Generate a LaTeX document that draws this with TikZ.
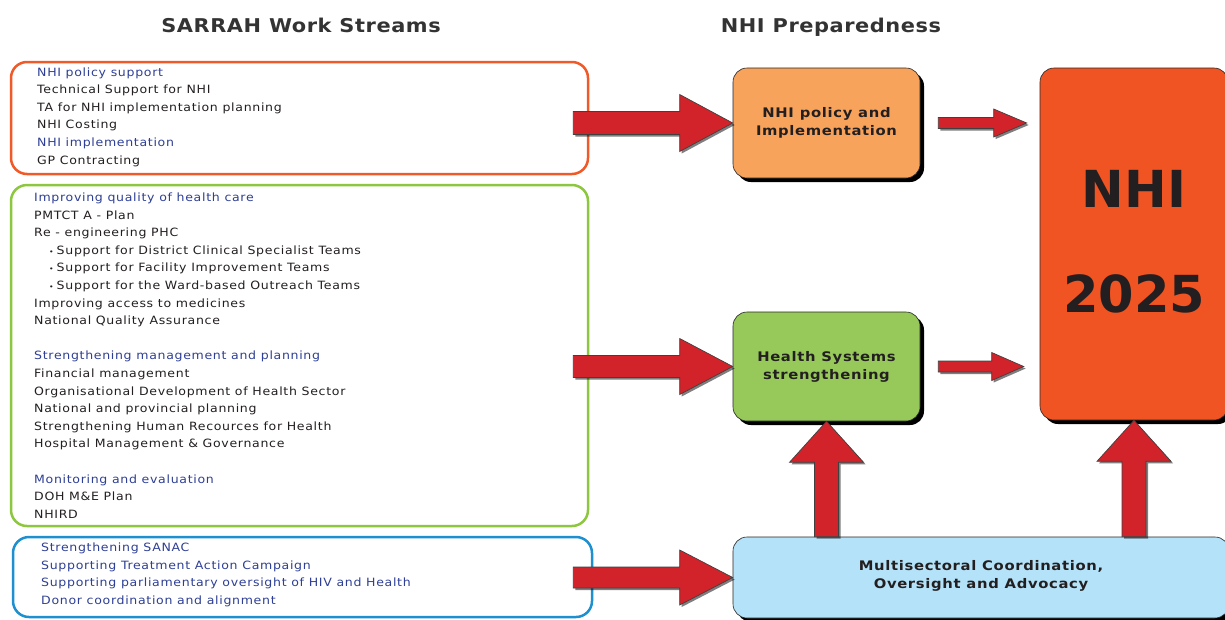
\documentclass[tikz,border=0pt]{standalone}
\usepackage{fontspec}
\setmainfont{DejaVu Sans}[FakeStretch=1.1,LetterSpace=6]
\newfontfamily\plainfont{DejaVu Sans}
\newfontfamily\titlefont{DejaVu Sans}[FakeStretch=1.1,LetterSpace=3]
\newfontfamily\boxfont{DejaVu Sans}[FakeStretch=1.12,LetterSpace=5]
\usetikzlibrary{calc,shadows}
\definecolor{hd}{HTML}{2E3F95}
\definecolor{tx}{HTML}{231F20}
\definecolor{ttl}{HTML}{333333}
\definecolor{orstroke}{HTML}{F05A28}
\definecolor{grstroke}{HTML}{8DC63F}
\definecolor{blstroke}{HTML}{1E8FCF}
\definecolor{orfill}{HTML}{F7A35C}
\definecolor{grfill}{HTML}{97C95A}
\definecolor{blfill}{HTML}{B4E2F8}
\definecolor{nhifill}{HTML}{F05423}
\definecolor{arrred}{HTML}{D2232A}

% tail, tip, shaft half, head half, head length
\newcommand{\hblockarrow}[5]{%
 \path[blockarrow] let \p1=#1, \p2=#2 in
 (\x1,{\y2+#3pt}) -- ({\x2-#5pt},{\y2+#3pt}) -- ({\x2-#5pt},{\y2+#4pt}) -- (\x2,\y2) --
 ({\x2-#5pt},{\y2-#4pt}) -- ({\x2-#5pt},{\y2-#3pt}) -- (\x1,{\y2-#3pt}) -- cycle;}
\newcommand{\vblockarrow}[5]{%
 \path[blockarrow] let \p1=#1, \p2=#2 in
 ({\x2-#3pt},\y1) -- ({\x2-#3pt},{\y2-#5pt}) -- ({\x2-#4pt},{\y2-#5pt}) -- (\x2,\y2) --
 ({\x2+#4pt},{\y2-#5pt}) -- ({\x2+#3pt},{\y2-#5pt}) -- ({\x2+#3pt},\y1) -- cycle;}
\newcommand{\smallbullet}{{\fontsize{7}{7}\selectfont\textbullet}\hspace{3pt}}

\tikzset{
 wsbox/.style={draw, line width=2.5pt, rounded corners=16pt, inner sep=0pt, fill=white},
 prepbox/.style={draw=black!85, line width=0.6pt, rounded corners=14pt, inner sep=0pt,
   drop shadow={shadow xshift=4pt, shadow yshift=-4pt, fill=black, opacity=1}},
 blockarrow/.style={fill=arrred, draw=black!75, line width=0.7pt,
   drop shadow={shadow xshift=2pt, shadow yshift=-2pt, fill=black, opacity=0.5}},
 li/.style={anchor=base west, inner sep=0pt, font=\fontsize{11.4}{13}\selectfont},
 titletext/.style={anchor=base, inner sep=0pt, font=\titlefont\fontsize{19}{21}\selectfont\bfseries, text=ttl},
 boxtext/.style={inner sep=0pt, font=\boxfont\fontsize{13.2}{18}\selectfont\bfseries, text=tx, align=center},
 bigtext/.style={anchor=base, inner sep=0pt, font=\plainfont\fontsize{51}{51}\selectfont\bfseries, text=tx},
}

\begin{document}
\begin{tikzpicture}[x=1pt,y=-1pt]
\fill[white] (0,0) rectangle (1225,619);
\useasboundingbox (0,0) rectangle (1225,619);
\clip (0,0) rectangle (1225,619);

% titles
\node[titletext] (t1) at (301,32) {SARRAH Work Streams};
\node[titletext] (t2) at (831,32) {NHI Preparedness};

% work stream boxes
\node[wsbox, draw=orstroke, minimum width=577pt, minimum height=112pt] (ws1) at (299.5,118) {};
\node[wsbox, draw=grstroke, minimum width=577pt, minimum height=341pt] (ws2) at (299.5,355.5) {};
\node[wsbox, draw=blstroke, minimum width=579pt, minimum height=80pt] (ws3) at (302.5,577) {};

% work stream texts
\foreach \x/\y/\c/\t [count=\i] in {
 37/76/hd/NHI policy support,
 37/93.6/tx/Technical Support for NHI,
 37/111.2/tx/TA for NHI implementation planning,
 37/128.8/tx/NHI Costing,
 37/146.4/hd/NHI implementation,
 37/164/tx/GP Contracting}
 \node[li, text=\c] (a\i) at (\x,\y) {\t};

\foreach \x/\y/\c/\t [count=\i] in {
 34/201.5/hd/Improving quality of health care,
 34/219.1/tx/PMTCT A - Plan,
 34/236.7/tx/Re - engineering PHC,
 49/254.3/tx/{\smallbullet Support for District Clinical Specialist Teams},
 49/271.9/tx/{\smallbullet Support for Facility Improvement Teams},
 49/289.5/tx/{\smallbullet Support for the Ward-based Outreach Teams},
 34/307.1/tx/Improving access to medicines,
 34/324.7/tx/National Quality Assurance,
 34/359.9/hd/Strengthening management and planning,
 34/377.5/tx/Financial management,
 34/395.1/tx/Organisational Development of Health Sector,
 34/412.7/tx/National and provincial planning,
 34/430.3/tx/Strengthening Human Recources for Health,
 34/447.9/tx/Hospital Management \& Governance,
 34/483.1/hd/Monitoring and evaluation,
 34/500.7/tx/DOH M\&E Plan,
 34/518.3/tx/NHIRD}
 \node[li, text=\c] (b\i) at (\x,\y) {\t};

\foreach \x/\y/\c/\t [count=\i] in {
 41/551.5/hd/Strengthening SANAC,
 41/569.1/hd/Supporting Treatment Action Campaign,
 41/586.7/hd/Supporting parliamentary oversight of HIV and Health,
 41/604.3/hd/Donor coordination and alignment}
 \node[li, text=\c] (c\i) at (\x,\y) {\t};

% preparedness boxes
\node[prepbox, fill=orfill, minimum width=187pt, minimum height=110pt] (pol) at (826.5,123) {};
\node[boxtext] (polt) at (pol.center) {NHI policy and\\Implementation};
\node[prepbox, fill=grfill, minimum width=187pt, minimum height=109pt] (hs) at (826.5,366.5) {};
\node[boxtext] (hst) at (hs.center) {Health Systems\\strengthening};
\node[prepbox, fill=blfill, minimum width=496pt, minimum height=81pt] (mc) at (981,577.5) {};
\node[boxtext] (mct) at ($(mc.center)+(0,-2)$) {Multisectoral Coordination,\\Oversight and Advocacy};
\node[prepbox, fill=nhifill, minimum width=188pt, minimum height=352pt] (nhi) at (1134,244) {};
\node[bigtext] (nhit1) at (1134,207) {NHI};
\node[bigtext] (nhit2) at (1134,312) {2025};

% big arrows from work streams
\hblockarrow{($(ws1.east|-pol.west)+(-16,0)$)}{(pol.west)}{11.5}{28.5}{53}
\hblockarrow{($(ws2.east|-hs.west)+(-16,0)$)}{(hs.west)}{11}{28}{53}
\hblockarrow{($(ws3.east|-mc.west)+(-20,0)$)}{(mc.west)}{10.5}{27.5}{53}

% small arrows to NHI
\hblockarrow{($(pol.east)+(18,0)$)}{($(nhi.west|-pol.east)+(-13,0)$)}{5.5}{14}{33}
\hblockarrow{($(hs.east)+(18,0)$)}{($(nhi.west|-hs.east)+(-16,0)$)}{5.5}{14}{32}

% vertical arrows
\vblockarrow{(mc.north-|hs.south)}{(hs.south)}{12}{37}{41}
\vblockarrow{(mc.north-|nhi.south)}{(nhi.south)}{12}{37}{41}
\end{tikzpicture}
\end{document}
